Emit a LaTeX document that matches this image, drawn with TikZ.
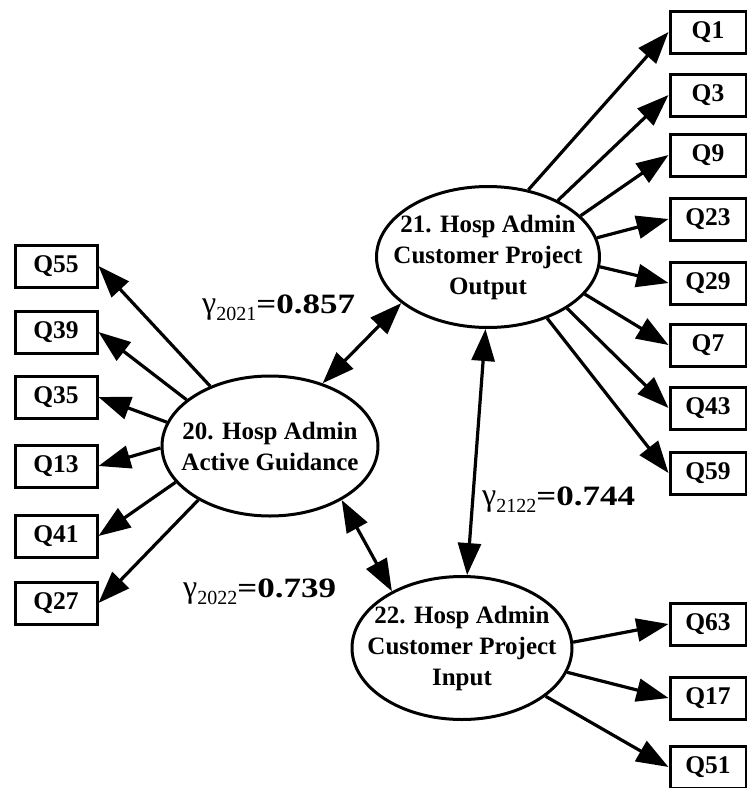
\documentclass[tikz,border=0pt]{standalone}
\usepackage{fontspec}
\setmainfont{Liberation Serif}
\usetikzlibrary{arrows.meta,shapes.geometric}
\newcommand{\gcoef}[2]{{\fontsize{32}{32}\selectfont γ}{\fontsize{20}{20}\selectfont\raisebox{-7pt}{#1}}\scalebox{1.25}[1]{\fontsize{28}{30}\selectfont\bfseries =#2}}
\begin{document}
\begin{tikzpicture}[x=1pt,y=-1pt,
  item/.style={draw, line width=3pt, minimum height=42pt, inner sep=0pt,
    font=\fontsize{25.5}{26}\selectfont\bfseries},
  litem/.style={item, minimum width=82pt},
  ritem/.style={item, minimum width=76pt},
  factor/.style={draw, ellipse, line width=3pt, inner xsep=-22pt, inner ysep=0pt,
    align=center, font=\fontsize{25}{31}\selectfont\bfseries},
  load/.style={line width=3.2pt, -{Triangle[length=32pt,width=23pt]}},
  corr/.style={line width=3.2pt,
    {Triangle[length=32pt,width=23pt]}-{Triangle[length=32pt,width=23pt]}},
  coef/.style={inner sep=0pt, anchor=base west}]
\useasboundingbox (0,0) rectangle (747,788);

% latent factors
\node[factor, minimum width=216pt, minimum height=140pt] (e20) at (270,446)
  {20. Hosp Admin\\Active Guidance};
\node[factor, minimum width=223pt, minimum height=141pt] (e21) at (488,257)
  {21. Hosp Admin\\Customer Project\\Output};
\node[factor, minimum width=220pt, minimum height=143pt] (e22) at (462,648)
  {22. Hosp Admin\\Customer Project\\Input};

% indicators of factor 20
\node[litem] (q55) at (56,266) {Q55};
\node[litem] (q39) at (56,332) {Q39};
\node[litem] (q35) at (56,397) {Q35};
\node[litem] (q13) at (56,466) {Q13};
\node[litem] (q41) at (56,536) {Q41};
\node[litem] (q27) at (56,603) {Q27};

% indicators of factor 21
\node[ritem] (q1)  at (708,32)  {Q1};
\node[ritem] (q3)  at (708,95)  {Q3};
\node[ritem] (q9)  at (708,155) {Q9};
\node[ritem] (q23) at (708,219) {Q23};
\node[ritem] (q29) at (708,283) {Q29};
\node[ritem] (q7)  at (708,345) {Q7};
\node[ritem] (q43) at (708,408) {Q43};
\node[ritem] (q59) at (708,473) {Q59};

% indicators of factor 22
\node[ritem] (q63) at (708,624) {Q63};
\node[ritem] (q17) at (708,698) {Q17};
\node[ritem] (q51) at (708,767) {Q51};

% loadings
\draw[load] (e20.135) -- (q55.east);
\draw[load] (e20.151) -- (q39.east);
\draw[load] (e20.167) -- (q35.east);
\draw[load] (e20.181) -- (q13.east);
\draw[load] (e20.201) -- (q41.east);
\draw[load] (e20.217) -- (q27.east);

\draw[load] (e21.59)  -- (q1.west);
\draw[load] (e21.39)  -- (q3.west);
\draw[load] (e21.24)  -- (q9.west);
\draw[load] (e21.10)  -- (q23.west);
\draw[load] (e21.-5)  -- (q29.west);
\draw[load] (e21.-21) -- (q7.west);
\draw[load] (e21.-33) -- (q43.west);
\draw[load] (e21.-46) -- (q59.west);

\draw[load] (e22.3)   -- (q63.west);
\draw[load] (e22.-13) -- (q17.west);
\draw[load] (e22.-30) -- (q51.west);

% factor correlations
\draw[corr] (e20.50)  -- (e21.208);
\draw[corr] (e20.-37) -- (e22.141);
\draw[corr] (e21.268) -- (e22.86);

\node[coef] (g2021) at (202,313) {\gcoef{2021}{0.857}};
\node[coef] (g2022) at (183,597) {\gcoef{2022}{0.739}};
\node[coef] (g2122) at (482,505) {\gcoef{2122}{0.744}};
\end{tikzpicture}
\end{document}
